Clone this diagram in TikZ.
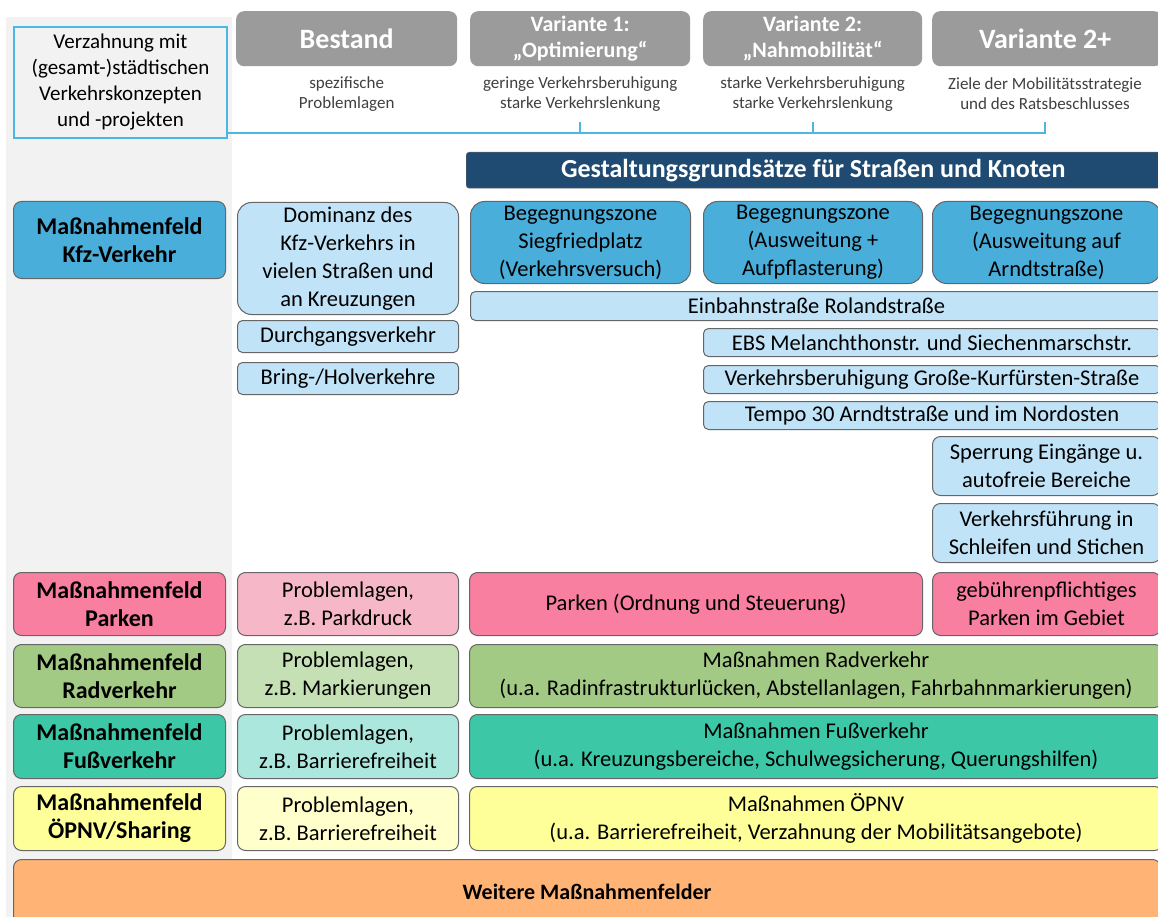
\documentclass[tikz,border=0pt]{standalone}
\usepackage{fontspec}
\setmainfont{Carlito}
\definecolor{panel}{HTML}{F2F2F2}
\definecolor{cyanline}{HTML}{4DB6E2}
\definecolor{headgray}{HTML}{9B9B9B}
\definecolor{navy}{HTML}{1F4B73}
\definecolor{kfz}{HTML}{4AAEDB}
\definecolor{kfzhell}{HTML}{C1E3F7}
\definecolor{pink}{HTML}{F87FA0}
\definecolor{pinkhell}{HTML}{F6B8C8}
\definecolor{gruen}{HTML}{A3CA84}
\definecolor{gruenhell}{HTML}{C6E0B5}
\definecolor{tuerkis}{HTML}{3CC7A7}
\definecolor{tuerkishell}{HTML}{ABE7DC}
\definecolor{gelb}{HTML}{FFFF99}
\definecolor{gelbhell}{HTML}{FFFFCC}
\definecolor{orange}{HTML}{FFB476}
\definecolor{subgray}{HTML}{404040}
\tikzset{
  wh/.style 2 args={minimum width=#1, minimum height=#2},
  feld/.style={draw=black!60, line width=1pt, rounded corners=8pt, align=center,
    anchor=north west, inner xsep=3pt, inner ysep=0pt, font=\fontsize{22.5}{28}\selectfont},
  titel/.style={font=\fontsize{24}{28}\bfseries},
  kopf/.style={fill=headgray, rounded corners=8pt, align=center, anchor=north west,
    inner sep=0pt, text=white, font=\fontsize{22}{26}\bfseries},
  sub/.style={align=center, text=subgray, font=\fontsize{17}{20}\selectfont},
  link/.style={cyanline, line width=2pt}
}
\begin{document}
\begin{tikzpicture}[x=1pt,y=-1pt]
\clip (0,0) rectangle (1158,917);
\fill[white] (0,0) rectangle (1158,917);
\fill[panel] (6,17) rectangle (232,917);

\node[draw=cyanline, line width=2pt, fill=panel, wh={213}{111}, anchor=north west, align=center,
  inner sep=0pt, font=\fontsize{21}{26}\selectfont] (verz) at (13,26)
  {Verzahnung mit\\(gesamt-)städtischen\\Verkehrskonzepten\\und -projekten};

\node[kopf, wh={221}{55}, font=\fontsize{28}{30}\bfseries] (bestand) at (236,11) {Bestand};
\node[kopf, wh={220}{55}] (vone) at (470,11) {Variante 1:\\„Optimierung“};
\node[kopf, wh={219}{55}] (vtwo) at (703,11) {Variante 2:\\„Nahmobilität“};
\node[kopf, wh={230}{55}, font=\fontsize{28}{30}\bfseries] (vtwoplus) at (932,11) {\hspace*{-4pt}Variante 2+};

\node[sub] (bsub) at (bestand.south |- 0,94) {spezifische\\Problemlagen};
\node[sub] (vonesub) at (vone.south |- 0,94) {geringe Verkehrsberuhigung\\starke Verkehrslenkung};
\node[sub] (vtwosub) at (vtwo.south |- 0,94) {starke Verkehrsberuhigung\\starke Verkehrslenkung};
\node[sub] (vtwoplussub) at (1045,94) {Ziele der Mobilitätsstrategie\\und des Ratsbeschlusses};

\draw[link] (verz.south east) ++(0,-6) coordinate (lz) -- (lz -| vtwoplussub) -- ++(0,-11);
\foreach \v in {vone,vtwo}
  \draw[link] (lz -| \v.center) -- ++(0,-11);

\node[fill=navy, draw=black!60, rounded corners=3pt, wh={700}{36}, anchor=north west, inner sep=0pt,
  text=white, font=\fontsize{26}{28}\bfseries] (gestalt) at (466,152)
  {\hspace*{-6pt}Gestaltungsgrundsätze für Straßen und Knoten};

\node[feld, fill=kfz, wh={212}{77}, titel] (kfzfeld) at (13,201) {Maßnahmenfeld\\Kfz-Verkehr};
\node[feld, fill=kfzhell, wh={221}{112}, rounded corners=14pt] (dominanz) at (237,202)
  {Dominanz des\\Kfz-Verkehrs in\\vielen Straßen und\\an Kreuzungen};
\node[feld, fill=kfzhell, wh={221}{32}, rounded corners=5pt] (durch) at (237,320) {Durchgangsverkehr};
\node[feld, fill=kfzhell, wh={221}{32}, rounded corners=5pt] (bring) at (237,362) {Bring-/Holverkehre};

\node[feld, fill=kfz, wh={220}{82}, rounded corners=14pt] (bzone) at (470,201) {Begegnungszone\\Siegfriedplatz\\(Verkehrsversuch)};
\node[feld, fill=kfz, wh={219}{82}, rounded corners=14pt] (bzausw) at (703,201) {Begegnungszone\\(Ausweitung +\\Aufpflasterung)};
\node[feld, fill=kfz, wh={228}{82}, rounded corners=14pt] (bzarndt) at (932,201) {Begegnungszone\\(Ausweitung auf\\Arndtstraße)};

\node[feld, fill=kfzhell, wh={692}{29}, rounded corners=5pt] (einbahn) at (470,291) {Einbahnstraße Rolandstraße};
\node[feld, fill=kfzhell, wh={457}{28}, rounded corners=5pt] (ebs) at (703,328) {EBS Melanchthonstr. und Siechenmarschstr.};
\node[feld, fill=kfzhell, wh={457}{28}, rounded corners=5pt] (gks) at (703,365) {Verkehrsberuhigung Große-Kurfürsten-Straße};
\node[feld, fill=kfzhell, wh={457}{28}, rounded corners=5pt] (tempo) at (703,401) {Tempo 30 Arndtstraße und im Nordosten};
\node[feld, fill=kfzhell, wh={228}{59}] (sperrung) at (932,436) {Sperrung Eingänge u.\\autofreie Bereiche};
\node[feld, fill=kfzhell, wh={228}{59}] (schleifen) at (932,503) {Verkehrsführung in\\Schleifen und Stichen};

\node[feld, fill=pink, wh={212}{63}, titel] (parkfeld) at (13,572) {Maßnahmenfeld\\Parken};
\node[feld, fill=pinkhell, wh={221}{63}] (parkprob) at (237,572) {Problemlagen,\\z.B. Parkdruck};
\node[feld, fill=pink, wh={453}{63}] (parkord) at (469,572) {Parken (Ordnung und Steuerung)};
\node[feld, fill=pink, wh={228}{63}] (parkgeb) at (932,572) {gebührenpflichtiges\\Parken im Gebiet};

\node[feld, fill=gruen, wh={212}{63}, titel] (radfeld) at (13,644) {Maßnahmenfeld\\Radverkehr};
\node[feld, fill=gruenhell, wh={221}{63}] (radprob) at (237,644) {Problemlagen,\\z.B. Markierungen};
\node[feld, fill=gruen, wh={693}{63}] (radmass) at (469,644)
  {Maßnahmen Radverkehr\\(u.a. Radinfrastrukturlücken, Abstellanlagen, Fahrbahnmarkierungen)};

\node[feld, fill=tuerkis, wh={212}{64}, titel] (fussfeld) at (13,714) {Maßnahmenfeld\\Fußverkehr};
\node[feld, fill=tuerkishell, wh={221}{64}] (fussprob) at (237,714) {Problemlagen,\\z.B. Barrierefreiheit};
\node[feld, fill=tuerkis, wh={693}{64}] (fussmass) at (469,714)
  {Maßnahmen Fußverkehr\\(u.a. Kreuzungsbereiche, Schulwegsicherung, Querungshilfen)};

\node[feld, fill=gelb, wh={212}{64}, titel] (oepnvfeld) at (13,786) {Maßnahmenfeld\\ÖPNV/Sharing};
\node[feld, fill=gelbhell, wh={221}{64}] (oepnvprob) at (237,786) {Problemlagen,\\z.B. Barrierefreiheit};
\node[feld, fill=gelb, wh={693}{64}] (oepnvmass) at (469,786)
  {Maßnahmen ÖPNV\\(u.a. Barrierefreiheit, Verzahnung der Mobilitätsangebote)};

\node[feld, fill=orange, wh={1147}{64}, font=\fontsize{22}{26}\bfseries] (weitere) at (13,859) {Weitere Maßnahmenfelder};
\end{tikzpicture}
\end{document}
